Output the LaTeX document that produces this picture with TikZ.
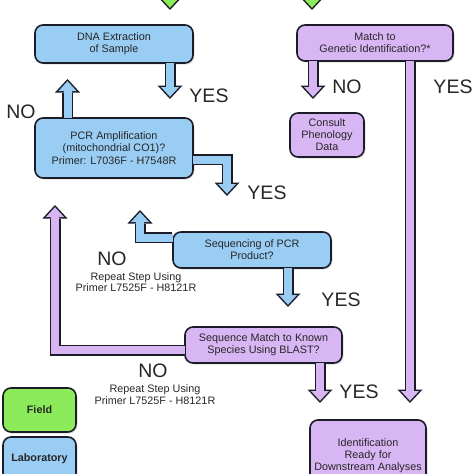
\documentclass[tikz,border=0pt]{standalone}
\usepackage{fontspec}
\setmainfont{Liberation Sans}
\usepackage{xcolor}
\usepackage{tikz}
\usetikzlibrary{arrows.meta}
\usetikzlibrary{shadows}
\definecolor{labblue}{HTML}{9ACDF4}
\definecolor{idpurple}{HTML}{D8B6F4}
\definecolor{fieldgreen}{HTML}{8CEB5A}
\definecolor{boxline}{HTML}{1C1C28}

\begin{document}
\begin{tikzpicture}[x=1pt,y=-1pt,
	box/.style={draw=boxline, line width=1.6pt, rounded corners=8pt, align=center, inner sep=0pt, text=black!85, font=\fontsize{10.8}{12}\selectfont, drop shadow={shadow xshift=1.5pt, shadow yshift=-1.5pt, opacity=.25}},
	blue box/.style={box, fill=labblue},
	purple box/.style={box, fill=idpurple},
	key box/.style={box, minimum width=73pt, minimum height=44pt, font=\bfseries\fontsize{10.8}{12}\selectfont},
	answer/.style={font=\fontsize{19.5}{22}\selectfont, text=black!85},
	note/.style={font=\fontsize{10.8}{11.5}\selectfont, align=center, text=black!85},
	block arrow/.style={draw=boxline, line width=11pt, -{Triangle[width=25pt,length=13.5pt,line width=0pt]},
		postaction={draw=#1, line width=8pt, shorten <=-1pt, shorten >=2.2pt, -{Triangle[width=18.1pt,length=9.8pt,line width=0pt]}}}]
	\clip (0,0) rectangle (474,474);
	
	% Nodes
	\node[blue box, minimum width=158pt, minimum height=38pt] (dna) at (114,44) {DNA Extraction\\of Sample};
	\node[blue box, minimum width=158pt, minimum height=60pt] (pcr) at (114,148) {PCR Amplification\\(mitochondrial CO1)?\\[1.5pt]Primer: L7036F - H7548R};
	\node[blue box, minimum width=158pt, minimum height=36pt] (seq) at (252,250) {Sequencing of PCR\\Product?};
	\node[purple box, minimum width=157pt, minimum height=36pt] (blast) at (263.5,345) {Sequence Match to Known\\Species Using BLAST?};
	\node[purple box, minimum width=156pt, minimum height=36pt] (genetic) at (375,43) {Match to\\Genetic Identification?*};
	\node[purple box, minimum width=74pt, minimum height=44pt] (pheno) at (327,135) {Consult\\Phenology\\Data};
	\node[purple box, minimum width=116pt, minimum height=72pt] (ready) at (368,456) {Identification\\Ready for\\Downstream Analyses};
	
	% Key
	\node[key box, fill=fieldgreen] (field) at (39.5,410) {Field};
	\node[key box, fill=labblue] (lab) at (39.5,459) {Laboratory};
	
	% Arrow ends
	\coordinate (from1) at (170,-30);
	\coordinate (into1) at (170,10);
	\coordinate (from2) at (312,-30);
	\coordinate (into2) at (312,10);
	\coordinate (dna yes) at (170,99);
	\coordinate (pcr no) at (67.5,79);
	\coordinate (pcr bend) at (227,159.5);
	\coordinate (pcr yes) at (227,196);
	\coordinate (seq bend) at (140,237.5);
	\coordinate (seq no) at (140,210);
	\coordinate (seq yes) at (288,307);
	\coordinate (blast bend) at (55,350);
	\coordinate (blast no) at (55,205);
	\coordinate (blast yes) at (320,403);
	\coordinate (genetic no) at (313,99);
	\coordinate (genetic yes) at (410,403);
	
	% Arrows
	\draw[block arrow=fieldgreen] (from1) -- (into1);
	\draw[block arrow=fieldgreen] (from2) -- (into2);
	\draw[block arrow=labblue] (dna.south -| dna yes) -- (dna yes);
	\draw[block arrow=labblue] (pcr.north -| pcr no) -- (pcr no);
	\draw[block arrow=labblue] (pcr.east |- pcr bend) -- (pcr bend) -- (pcr yes);
	\draw[block arrow=labblue] (seq.west |- seq bend) -- (seq bend) -- (seq no);
	\draw[block arrow=labblue] (seq.south -| seq yes) -- (seq yes);
	\draw[block arrow=idpurple] (blast.west |- blast bend) -- (blast bend) -- (blast no);
	\draw[block arrow=idpurple] (blast.south -| blast yes) -- (blast yes);
	\draw[block arrow=idpurple] (genetic.south -| genetic no) -- (genetic no);
	\draw[block arrow=idpurple] (genetic.south -| genetic yes) -- (genetic yes);
	
	% Labels
	\node[answer] (l1) at (21,112) {NO};
	\node[answer] (l2) at (209,95.5) {YES};
	\node[answer] (l3) at (267,193) {YES};
	\node[answer] (l4) at (112,258.5) {NO};
	\node[note] (l5) at (136,282) {Repeat Step Using\\Primer L7525F - H8121R};
	\node[answer] (l6) at (341,299.5) {YES};
	\node[answer] (l7) at (153,370.5) {NO};
	\node[note] (l8) at (155,394.5) {Repeat Step Using\\Primer L7525F - H8121R};
	\node[answer] (l9) at (359,392) {YES};
	\node[answer] (l10) at (347,86.5) {NO};
	\node[answer] (l11) at (453,86.5) {YES};
	
\end{tikzpicture}
\end{document}
